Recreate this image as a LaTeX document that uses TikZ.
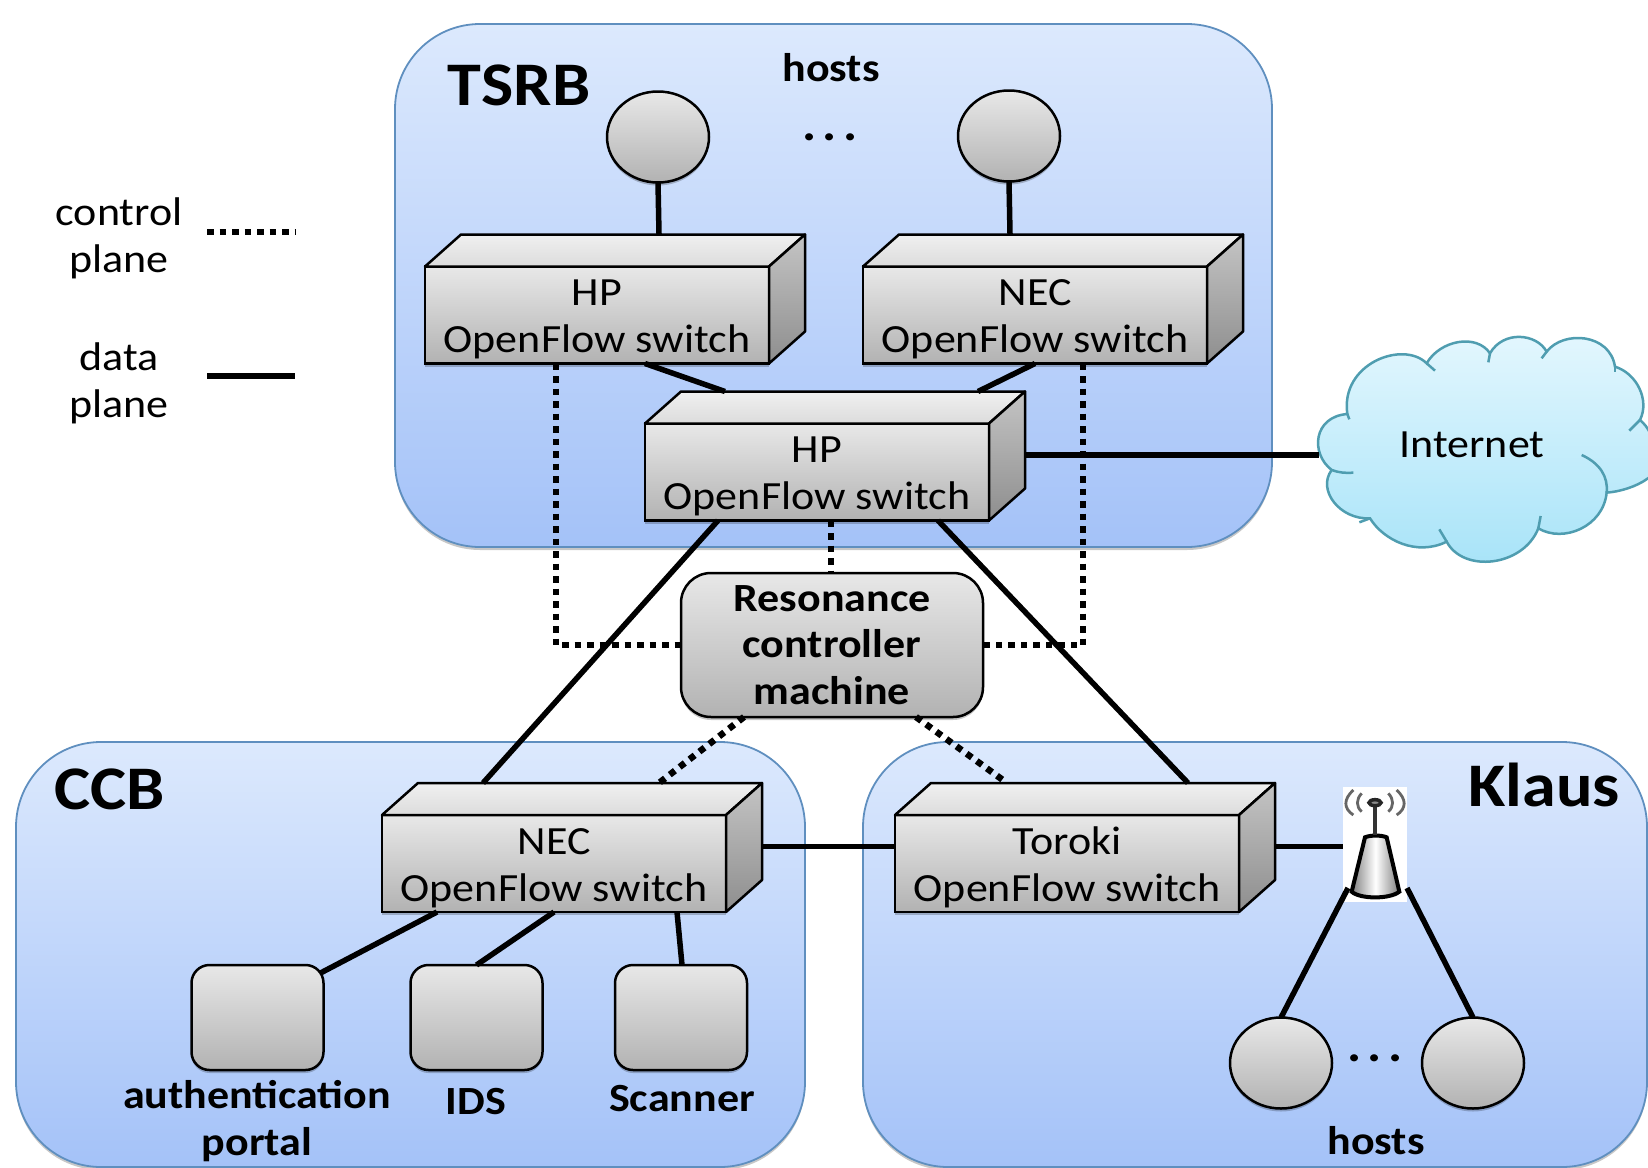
\documentclass[tikz,border=0pt]{standalone}
\usepackage{fontspec}
\setmainfont[FakeStretch=1.1]{Carlito}
\usetikzlibrary{shapes.geometric,calc,shadows}
\tikzset{
  softshadow/.style={general shadow={fill=black,opacity=.22,shadow yshift=-3pt,shadow xshift=0pt}},
  region/.style={draw=regionedge,line width=1.8pt,top color=regiontop,bottom color=regionbot,rounded corners=85pt,softshadow},
  swfront/.style={draw=black,line width=2.5pt,top color=swtop,bottom color=swbot,minimum width=344pt,minimum height=97pt,inner sep=0pt,outer sep=0pt,align=center,font=\fontsize{40}{47}\selectfont,softshadow},
  swtopface/.style={draw=black,line width=2.5pt,top color=faceA,bottom color=faceB,line join=round},
  swside/.style={draw=black,line width=2.5pt,top color=sideA,bottom color=sideB,line join=round},
  hostnode/.style={ellipse,draw=black,line width=2.5pt,top color=swtop,bottom color=swbot,minimum width=102pt,minimum height=91pt,inner sep=0pt,outer sep=0pt,softshadow},
  serverbox/.style={draw=black,line width=2.5pt,rounded corners=18pt,top color=swtop,bottom color=swbot,minimum width=132pt,minimum height=105pt,inner sep=0pt,outer sep=0pt,softshadow},
  ctrlbox/.style={draw=black,line width=2.5pt,rounded corners=30pt,top color=swtop,bottom color=swbot,minimum width=302pt,minimum height=144pt,inner sep=0pt,outer sep=0pt,align=center,font=\fontsize{40}{46.5}\selectfont\bfseries,softshadow},
  dataline/.style={line width=5.5pt,draw=black},
  ctrlline/.style={line width=6.5pt,draw=black,dash pattern=on 6.5pt off 6pt},
  plain/.style={font=\fontsize{40}{47}\selectfont,align=center,inner sep=0pt},
  boldlab/.style={font=\fontsize{40}{46.5}\selectfont\bfseries,align=center,inner sep=0pt},
  dotslab/.style={font=\fontsize{48}{48}\selectfont\bfseries,inner sep=0pt},
  title/.style={font=\fontsize{62}{70}\selectfont\bfseries,inner sep=0pt},
  cloudline/.style={draw=cloudedge,line width=2.5pt},
}
\definecolor{regionedge}{HTML}{5F8FBF}
\definecolor{regiontop}{HTML}{DCE9FD}
\definecolor{regionbot}{HTML}{A4C2F8}
\definecolor{swtop}{HTML}{E8E8E8}
\definecolor{swbot}{HTML}{B2B2B2}
\definecolor{faceA}{HTML}{F0F0F0}
\definecolor{faceB}{HTML}{DCDCDC}
\definecolor{sideA}{HTML}{C4C4C4}
\definecolor{sideB}{HTML}{8E8E8E}
\definecolor{cloudtop}{HTML}{E4F7FE}
\definecolor{cloudbot}{HTML}{A6E3F8}
\definecolor{cloudedge}{HTML}{4F9DB0}
\newcommand\swbox[4]{%
  \node[swfront] (#1) at (#2,#3) {\rule{0pt}{35pt}#4};
  \path[swtopface] (#1.north west) -- ++(36,-32) -- ++(344,0) -- ++(-36,32) -- cycle;
  \path[swside] (#1.north east) -- ++(36,-32) -- ++(0,97) -- ++(-36,32) -- cycle;
}
\begin{document}
\begin{tikzpicture}[x=1pt,y=-1pt]
\useasboundingbox (0,0) rectangle (1648,1167);
% regions
\path[region] (395,24) rectangle (1272,547);
\path[region] (16,742) rectangle (805,1167);
\path[region] (863,742) rectangle (1647,1167);
% cloud
\begin{scope}[shift={(1290pt,-320pt)},x=0.3333pt,y=-0.3333pt]
\path[cloudline,top color=cloudtop,bottom color=cloudbot]
  (172,282) .. controls (150,130) and (340,60) .. (410,130)
  .. controls (450,60) and (560,40) .. (600,100)
  .. controls (640,30) and (740,40) .. (770,95)
  .. controls (820,30) and (960,40) .. (975,140)
  .. controls (1040,160) and (1080,240) .. (1050,300)
  .. controls (1100,340) and (1120,450) .. (1074,475)
  .. controls (1040,500) and (990,515) .. (950,518)
  .. controls (940,620) and (820,670) .. (745,625)
  .. controls (700,740) and (520,760) .. (470,665)
  .. controls (380,710) and (280,660) .. (240,595)
  .. controls (150,600) and (80,510) .. (125,450)
  .. controls (60,400) and (70,290) .. (172,282) -- cycle;
\path[cloudline] (410,130) -- (435,152);
\path[cloudline] (600,100) -- (595,127);
\path[cloudline] (770,95) -- (755,115);
\path[cloudline] (975,140) -- (975,157);
\path[cloudline] (1050,300) -- (1018,332);
\path[cloudline] (875,405) .. controls (930,430) and (955,470) .. (950,518);
\path[cloudline] (745,625) -- (752,588);
\path[cloudline] (470,665) -- (448,628);
\path[cloudline] (240,595) -- (208,607);
\path[cloudline] (125,450) .. controls (145,458) and (170,460) .. (190,458);
\path[cloudline] (172,282) -- (178,298);
\end{scope}
\node[plain] (internet) at (1472,445) {Internet};
\coordinate (cloudw) at (1319,455);
% hosts top
\node[hostnode] (h1) at (658,137) {};
\node[hostnode] (h2) at (1009,136) {};
% switches
\swbox{hp1}{597}{315}{HP\\OpenFlow switch}
\swbox{nec1}{1035}{315}{NEC\\OpenFlow switch}
\swbox{hp2}{817}{472}{HP\\OpenFlow switch}
\swbox{nec2}{554}{863.5}{NEC\\OpenFlow switch}
\swbox{tor}{1067}{863.5}{Toroki\\OpenFlow switch}
% controller
\node[ctrlbox] (ctl) at (832,645) {Resonance\\controller\\machine};
% servers
\node[serverbox] (auth) at (257.5,1017.5) {};
\node[serverbox] (ids) at (476.5,1017.5) {};
\node[serverbox] (scan) at (681,1017.5) {};
% Klaus hosts
\node[hostnode] (h3) at (1281,1063) {};
\node[hostnode] (h4) at (1473,1063) {};
% access point
\node[fill=white,minimum width=64pt,minimum height=115pt,inner sep=0pt,outer sep=0pt] (ap) at (1375,844.5) {};
\begin{scope}[shift={(1250pt,-760pt)},x=0.3333pt,y=-0.3333pt]
\path[draw=black,line width=4pt,left color=black!50,right color=black!50,middle color=white]
  (345,232) .. controls (360,225) and (395,225) .. (410,232) -- (448,395) .. controls (420,418) and (330,418) .. (305,395) -- cycle;
\draw[line width=3.5pt,black!80] (375,135) -- (375,226);
\draw[line width=3.5pt,black!85,fill=black!45] (375,128) ellipse (18 and 9);
\draw[line width=2.8pt,black!60] (335,100) .. controls (318,118) and (318,140) .. (335,155);
\draw[line width=2.8pt,black!60] (310,90) .. controls (280,118) and (280,145) .. (310,165);
\draw[line width=2.8pt,black!60] (415,100) .. controls (432,118) and (432,140) .. (415,155);
\draw[line width=2.8pt,black!60] (440,90) .. controls (470,118) and (470,145) .. (440,165);
\end{scope}
% data plane connectors
\draw[dataline] (h1.south) -- (659,234);
\draw[dataline] (h2.south) -- (1010,234);
\draw[dataline] ($(hp1.south west)+(220,0)$) -- ($(hp2.north west)+(80,-32)$);
\draw[dataline] ($(nec1.south west)+(172,0)$) -- ($(hp2.north west)+(333,-32)$);
\draw[dataline] ($(hp2.east)+(36,-17)$) -- (cloudw);
\draw[dataline] ($(hp2.south west)+(73,0)$) -- ($(nec2.north west)+(101,-32)$);
\draw[dataline] ($(hp2.south west)+(293,0)$) -- ($(tor.north west)+(293,-32)$);
\draw[dataline] ($(nec2.east)+(36,-17)$) -- (tor.west |- {$(tor.east)+(0,-17)$});
\draw[dataline] ($(tor.east)+(36,-17)$) -- (ap.west |- {$(tor.east)+(0,-17)$});
\draw[dataline] ($(ap.south west)+(5,-14)$) -- (h3.north);
\draw[dataline] ($(ap.south east)+(0,-14)$) -- (h4.north);
\draw[dataline] ($(nec2.south west)+(55,0)$) -- ($(auth.north east)+(-3,8)$);
\draw[dataline] ($(nec2.south west)+(172,0)$) -- (ids.north);
\draw[dataline] ($(nec2.south west)+(295,0)$) -- ($(scan.north)+(1,0)$);
% control plane connectors
\draw[ctrlline] ($(hp1.south west)+(131,0)$) |- (ctl.west);
\draw[ctrlline] ($(nec1.south west)+(220,0)$) |- (ctl.east);
\draw[ctrlline] ($(hp2.south west)+(186,0)$) -- (ctl.north -| {$(hp2.south west)+(186,0)$});
\draw[ctrlline] ($(ctl.south west)+(63,0)$) -- ($(nec2.north west)+(277,-32)$);
\draw[ctrlline] ($(ctl.south east)+(-67,0)$) -- ($(tor.north west)+(112,-32)$);
% legend
\node[plain] (lc) at (119,238) {control\\plane};
\coordinate (lc1) at (207,232);
\coordinate (lc2) at (296,232);
\draw[ctrlline] (lc1) -- (lc2);
\node[plain] (ld) at (119,383) {data\\plane};
\coordinate (ld1) at (207,376);
\coordinate (ld2) at (295,376);
\draw[dataline] (ld1) -- (ld2);
% labels
\node[title] (tsrb) at (519,85) {TSRB};
\node[title] (ccb) at (109.5,789) {CCB};
\node[title] (klaus) at (1544,785) {Klaus};
\node[boldlab] (hostsa) at (831,68) {hosts};
\node[boldlab] (hostsb) at (1376,1141) {hosts};
\node[dotslab] (dotsa) at (830,137) {.\hspace{6pt}.\hspace{6pt}.};
\node[dotslab] (dotsb) at (1375,1058) {.\hspace{6pt}.\hspace{6pt}.};
\node[boldlab] (lauth) at (257,1121) {authentication\\portal};
\node[boldlab] (lids) at (476,1102) {IDS};
\node[boldlab] (lscan) at (682,1099) {Scanner};
\end{tikzpicture}
\end{document}
